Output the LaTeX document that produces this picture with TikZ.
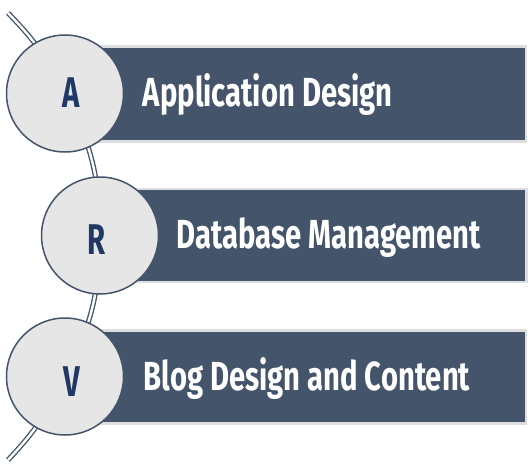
\documentclass[tikz,border=0pt]{standalone}
\usepackage{fontspec}
\usetikzlibrary{backgrounds}
\newfontfamily\labfont[FakeStretch=0.72]{Fira Sans}
\newfontfamily\initfont[FakeStretch=0.68]{Fira Sans}
\definecolor{barblue}{RGB}{68,84,106}
\definecolor{barrim}{RGB}{222,222,222}
\definecolor{discfill}{RGB}{231,230,230}
\definecolor{discline}{RGB}{68,84,106}
\definecolor{letterblue}{RGB}{31,56,100}
\tikzset{
  bar/.style={rectangle, fill=barblue, draw=barrim, line width=2.5pt,
    minimum width=461pt, minimum height=95pt, anchor=north west,
    inner sep=0pt, outer sep=0pt},
  disc/.style={circle, fill=discfill, draw=discline, line width=1.5pt,
    minimum size=117pt, inner sep=0pt, outer sep=0pt},
  initial/.style={font=\initfont\bfseries\fontsize{43}{43}\selectfont,
    text=letterblue, inner sep=0pt, anchor=base},
  caption/.style={font=\labfont\bfseries\fontsize{40.6}{41}\selectfont,
    text=white, inner sep=0pt, anchor=base west},
  rope/.style={draw=discline, line width=1.35pt, double=white,
    double distance=2.4pt}
}
\begin{document}
\begin{tikzpicture}[x=1pt,y=1pt]
  \useasboundingbox (0,0) rectangle (532,472);
  % bars
  \node[bar] (barA) at (65,425.5) {};
  \node[bar, minimum width=426.5pt, minimum height=93pt] (barR) at (100,283) {};
  \node[bar, minimum height=93pt] (barV) at (65,141.5) {};
  % discs
  \node[disc] (dA) at (65,378.5) {};
  \node[disc] (dR) at (100,236.5) {};
  \node[disc] (dV) at (65,95.5) {};
  % initials
  \node[initial] (iA) at (71,364) {A};
  \node[initial] (iR) at (96.5,217.7) {R};
  \node[initial] (iV) at (72,75.3) {V};
  % captions
  \node[caption] (tA) at (142.7,365.3) {Application Design};
  \node[caption] (tR) at (176.7,223.7) {Database Management};
  \node[caption] (tV) at (143.3,81.3) {Blog Design and Content};
  % the rope threading the discs
  \coordinate (ropeTop) at (8,459);
  \coordinate (ropeBottom) at (8,12);
  \begin{pgfonlayer}{background}
    \draw[rope] (ropeTop) to[bend left=9] (dA.center);
    \draw[rope] (dA.center) to[bend left=13.7] (dR.center);
    \draw[rope] (dR.center) to[bend left=13.5] (dV.center);
    \draw[rope] (dV.center) to[bend left=9] (ropeBottom);
  \end{pgfonlayer}
\end{tikzpicture}
\end{document}
